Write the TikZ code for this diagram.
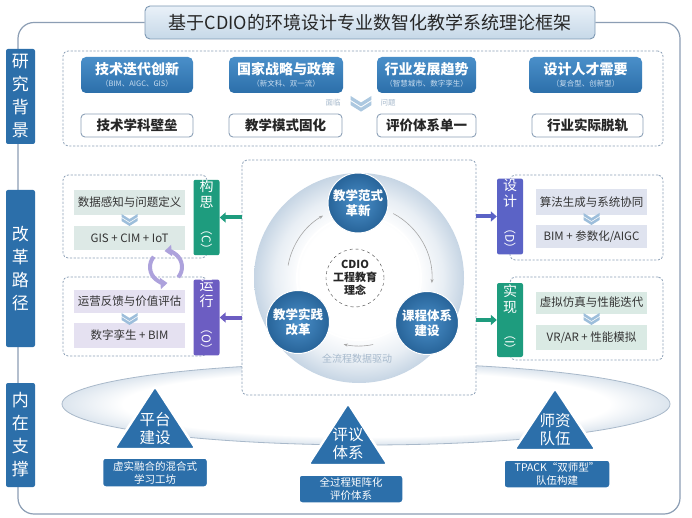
\documentclass[tikz,border=0pt]{standalone}
\usepackage{fontspec}
\usepackage{graphicx}
\setmainfont{Noto Sans CJK SC}
\usetikzlibrary{arrows.meta,shapes.geometric}
\definecolor{mblue}{HTML}{2C6FAA}
\definecolor{mbluel}{HTML}{4A8FC9}
\definecolor{cgreen}{HTML}{1E9C7E}
\definecolor{cpurp}{HTML}{6C5DC2}
\definecolor{cblpur}{HTML}{5B63C6}
\definecolor{dashc}{HTML}{8DA1B8}
\definecolor{framec}{HTML}{8C9EB4}
\definecolor{bgC}{HTML}{DDE9E6}
\definecolor{bgO}{HTML}{E5E1F1}
\definecolor{bgD}{HTML}{DFE3EF}
\definecolor{bgI}{HTML}{DAEAE4}
\definecolor{chevc}{HTML}{9DBEDB}
\definecolor{greyt}{HTML}{A6B9CC}
\definecolor{cycc}{HTML}{ADA2DC}
\definecolor{ringo}{HTML}{C6D5E4}
\definecolor{ello}{HTML}{DCE5EE}
\definecolor{elld}{HTML}{A9B9CA}
\definecolor{titlet}{HTML}{E9F1F8}
\definecolor{titleb}{HTML}{C6D8E8}
\definecolor{titled}{HTML}{7D98B3}
\definecolor{subt}{HTML}{C8DCEF}
\pgfdeclareradialshading{ellshade}{\pgfpoint{0bp}{0bp}}{color(0bp)=(white); color(20bp)=(white); color(25bp)=(ello); color(50bp)=(ello)}
\pgfdeclareradialshading{ringshade}{\pgfpoint{0bp}{0bp}}{color(0bp)=(white); color(14bp)=(white); color(20bp)=(white!60!ringo); color(25bp)=(ringo); color(50bp)=(ringo)}
\newcommand{\tmain}[1]{{\bfseries\fontsize{14}{17}\selectfont #1}}
\newcommand{\tsub}[1]{{\color{subt}\fontsize{7.5}{9}\selectfont #1}}
\newcommand{\vpar}[1]{\rotatebox{-90}{\fontsize{12}{12}\selectfont （#1）}}
\begin{document}
\begin{tikzpicture}[x=1pt,y=-1pt,
  frameline/.style={draw=framec, line width=1.2pt},
  titlebox/.style={rectangle, rounded corners=5pt, top color=titlet, bottom color=titleb, draw=titled, line width=0.9pt, minimum width=450pt, minimum height=33pt, inner sep=0pt, font=\fontsize{18}{20}\selectfont, text=black!85},
  sidelab/.style={rectangle, rounded corners=2pt, fill=mblue, text=white, minimum width=29pt, inner sep=0pt, align=center, font=\fontsize{17}{23}\selectfont},
  dashbox/.style={rectangle, draw=dashc, dash pattern=on 2.2pt off 1.6pt, line width=0.8pt, rounded corners=5pt, inner sep=0pt},
  bluebox/.style={rectangle, rounded corners=5pt, top color=mbluel, bottom color=mblue, minimum height=36pt, inner sep=0pt, align=center, text=white},
  wbox/.style={rectangle, rounded corners=4pt, draw=dashc, line width=0.9pt, fill=white, minimum height=23pt, inner sep=0pt, font=\bfseries\fontsize{13.5}{15}\selectfont, text=black!85},
  ibox/.style={rectangle, minimum width=111pt, inner sep=0pt, font=\fontsize{11.5}{13}\selectfont, text=black!80},
  vlab/.style={rectangle, rounded corners=2pt, minimum width=26pt, minimum height=74pt, inner sep=0pt, align=center, text=white, font=\fontsize{14}{16}\selectfont},
  fatarrow/.style={line width=4pt, -{Triangle[length=6pt,width=10pt]}},
  bcirc/.style={circle, inner color=mbluel, outer color=mblue!90!black, draw=white, line width=1pt, text=white, align=center, inner sep=0pt, font=\bfseries\fontsize{12.5}{15}\selectfont},
  ringarrow/.style={draw=gray!70, line width=0.6pt, -{Stealth[length=4pt,width=3pt]}},
  cycarrow/.style={draw=cycc, line width=4pt, -{Triangle[length=7pt,width=11pt]}},
  tri/.style={fill=mblue, draw=white, line width=2.5pt, rounded corners=3pt},
  tritext/.style={text=white, align=center, font=\fontsize{15.5}{18}\selectfont, inner sep=0pt},
  basebox/.style={rectangle, rounded corners=3pt, fill=mblue, draw=white, line width=1.5pt, text=white, align=center, inner sep=0pt, font=\fontsize{10.5}{13}\selectfont},
  chev/.pic={\fill[pic actions] (-8,0) -- (0,5) -- (8,0) -- (8,3) -- (0,8) -- (-8,3) -- cycle;
             \fill[pic actions] (-8,4) -- (0,9) -- (8,4) -- (8,7) -- (0,12) -- (-8,7) -- cycle;}
]
\useasboundingbox (0,0) rectangle (692,518);
\fill[white] (0,0) rectangle (692,518);

% ---------- title and frame
\node[titlebox] (title) at (370,22.5) {基于CDIO的环境设计专业数智化教学系统理论框架};
\draw[frameline, rounded corners=16pt] (title.west) -- (18,22.5) -- (18,514) -- (680,514) -- (680,22.5) -- (title.east);

% ---------- side labels
\node[sidelab, minimum height=95pt] (lab1) at (20.5,96.5) {研\\究\\背\\景};
\node[sidelab, minimum height=157pt] (lab2) at (20.5,268.5) {改\\革\\路\\径};
\node[sidelab, minimum height=104pt] (lab3) at (20.5,435) {内\\在\\支\\撑};

% ---------- section 1
\node[dashbox, fill=white, minimum width=600pt, minimum height=95pt] (sec1) at (363,98.5) {};
\node[bluebox, minimum width=112pt] (t1) at (137,75) {\tmain{技术迭代创新}\\\tsub{（BIM、AIGC、GIS）}};
\node[bluebox, minimum width=114pt] (t2) at (286,75) {\tmain{国家战略与政策}\\\tsub{（新文科、双一流）}};
\node[bluebox, minimum width=99pt] (t3) at (426.5,75) {\tmain{行业发展趋势}\\\tsub{（智慧城市、数字孪生）}};
\node[bluebox, minimum width=113pt] (t4) at (585.5,75) {\tmain{设计人才需要}\\\tsub{（复合型、创新型）}};
\node[wbox, minimum width=112pt] (w1) at (137,125.5) {技术学科壁垒};
\node[wbox, minimum width=113pt] (w2) at (285.5,125.5) {教学模式固化};
\node[wbox, minimum width=99pt] (w3) at (426.5,125.5) {评价体系单一};
\node[wbox, minimum width=111pt] (w4) at (587.5,125.5) {行业实际脱轨};
\pic[fill=chevc!85, scale=1.3] at (361,96) {chev};
\node[text=greyt, font=\fontsize{7.5}{9}\selectfont] (face) at (333,103) {面临};
\node[text=greyt, font=\fontsize{7.5}{9}\selectfont] (prob) at (388,103) {问题};

% ---------- bottom platform ellipse
\shadedraw[shading=ellshade, draw=elld, line width=0.8pt] (366,404) ellipse [x radius=304, y radius=41];

% ---------- section 2 groups
\node[dashbox, fill=white, minimum width=144pt, minimum height=83pt] (gC) at (135,216.5) {};
\node[dashbox, fill=white, minimum width=144pt, minimum height=79pt] (gO) at (135,316.5) {};
\node[dashbox, fill=white, minimum width=153pt, minimum height=85pt] (gD) at (586.5,217.5) {};
\node[dashbox, fill=white, minimum width=153pt, minimum height=83pt] (gI) at (586.5,318.5) {};
\node[dashbox, fill=white, minimum width=234pt, minimum height=235pt] (cbox) at (359,277.5) {};

\node[ibox, fill=bgC, minimum height=25pt] (c1) at (129.5,202.5) {数据感知与问题定义};
\node[ibox, fill=bgC, minimum height=24pt] (c2) at (129.5,238) {GIS + CIM + IoT};
\node[ibox, fill=bgO, minimum height=23pt] (o1) at (129.5,301.5) {运营反馈与价值评估};
\node[ibox, fill=bgO, minimum height=25pt] (o2) at (129.5,335.5) {数字孪生 + BIM};
\node[ibox, fill=bgD, minimum height=26pt] (d1) at (591.5,202) {算法生成与系统协同};
\node[ibox, fill=bgD, minimum height=23pt] (d2) at (591.5,236.5) {BIM + 参数化/AIGC};
\node[ibox, fill=bgI, minimum height=22pt] (i1) at (591.5,302.5) {虚拟仿真与性能迭代};
\node[ibox, fill=bgI, minimum height=25pt] (i2) at (591.5,337.5) {VR/AR + 性能模拟};
\pic[fill=chevc] at (129.5,214) {chev};
\pic[fill=chevc] at (129.5,313) {chev};
\pic[fill=chevc] at (591.5,213) {chev};
\pic[fill=chevc] at (591.5,313) {chev};

\node[vlab, fill=cgreen] (lC) at (206.5,217.5) {构\\思\\\vpar{C}};
\node[vlab, fill=cpurp] (lO) at (206.5,317.5) {运\\行\\\vpar{O}};
\node[vlab, fill=cblpur] (lD) at (510,216.5) {设\\计\\\vpar{D}};
\node[vlab, fill=cgreen] (lI) at (510,320) {实\\现\\\vpar{I}};

\draw[fatarrow, cgreen] (cbox.west |- lC.east) -- (lC.east);
\draw[fatarrow, cpurp] (cbox.west |- lO.east) -- (lO.east);
\draw[fatarrow, cblpur] (cbox.east |- lD.west) -- (lD.west);
\draw[fatarrow, cgreen] (cbox.east |- lI.west) -- (lI.west);

% cycle arrows between C and O
\coordinate (cyc) at (166,267);
\draw[cycarrow] ([shift={(40:16)}]cyc) arc[start angle=40, end angle=-95, radius=16];
\draw[cycarrow] ([shift={(-140:16)}]cyc) arc[start angle=-140, end angle=-275, radius=16];

% ---------- central ring
\coordinate (ringc) at (359,278);
\shade[shading=ringshade] (ringc) circle[radius=105];
\draw[white, line width=2pt] (ringc) circle[radius=62];
\draw[ringarrow] ([shift={(-62:73)}]ringc) arc[start angle=-62, end angle=4, radius=73];
\draw[ringarrow] ([shift={(78:68)}]ringc) arc[start angle=78, end angle=103, radius=68];
\draw[ringarrow] ([shift={(-170:72)}]ringc) arc[start angle=-170, end angle=-120, radius=72];
\node[bcirc, minimum size=60pt] (m1) at (358,203) {教学范式\\革新};
\node[bcirc, minimum size=63pt] (m2) at (427,323) {课程体系\\建设};
\node[bcirc, minimum size=63pt] (m3) at (298,322) {教学实践\\改革};
\node[circle, draw=black!75, dashed, fill=white, minimum size=58pt, inner sep=0pt, align=center, font=\bfseries\fontsize{11}{13}\selectfont, text=black!85] (core) at (355,278) {CDIO\\工程教育\\理念};
\node[text=greyt, font=\fontsize{10}{12}\selectfont] (flow) at (357,359) {全流程数据驱动};

% ---------- supports
\filldraw[tri] (155,386) -- (196,449) -- (114,449) -- cycle;
\filldraw[tri] (348,403) -- (388,465) -- (308,465) -- cycle;
\filldraw[tri] (555,388) -- (596,450) -- (514,450) -- cycle;
\node[tritext] (p1) at (155,429) {平台\\建设};
\node[tritext] (p2) at (348,444) {评议\\体系};
\node[tritext] (p3) at (555,430) {师资\\队伍};
\node[basebox, minimum width=105pt, minimum height=29pt] (b1) at (155,472.5) {虚实融合的混合式\\学习工坊};
\node[basebox, minimum width=104pt, minimum height=28pt] (b2) at (351,489) {全过程矩阵化\\评价体系};
\node[basebox, minimum width=106pt, minimum height=28pt] (b3) at (557,474) {TPACK“双师型”\\队伍构建};
\end{tikzpicture}
\end{document}
